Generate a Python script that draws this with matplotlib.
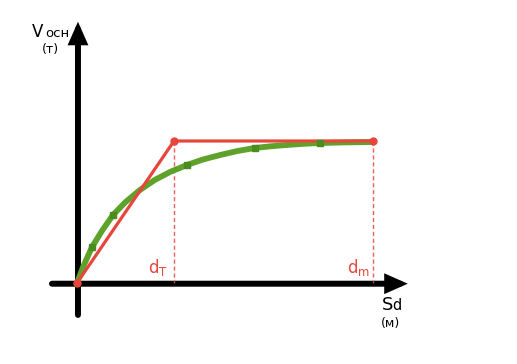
import matplotlib
matplotlib.use("Agg")
import matplotlib.pyplot as plt

# ---- data (units: d_T = 1, V_max = 1) ----
d_T = 1.0
d_m = 3.05
red_x = [0.0, d_T, d_m]
red_y = [0.0, 1.0, 1.0]

green_x = [0.0, 0.07, 0.155, 0.26, 0.371, 0.50, 0.649, 0.80, 0.959, 1.134, 1.30, 1.474, 1.65, 1.835, 2.0, 2.165, 2.33, 2.505, 2.75, 3.05]
green_y = [0.0, 0.125, 0.254, 0.370, 0.479, 0.570, 0.655, 0.725, 0.782, 0.831, 0.870, 0.901, 0.929, 0.951, 0.963, 0.972, 0.980, 0.986, 0.990, 0.993]
green_marks = [2, 4, 9, 13, 17]

W, H = 517, 364
fig = plt.figure(figsize=(W / 100, H / 100), dpi=100)
ax = fig.add_axes([0, 0, 1, 1])
ax.set_xlim(-77 / 97, (W - 77) / 97)
ax.set_ylim(-(H - 283) / 142, 283 / 142)
ax.axis("off")

RED = "#e8453c"
GREEN = "#5ea22c"
DGREEN = "#4a8c1f"

# axes arrows
arrow_kw = dict(arrowstyle="-|>,head_length=0.95,head_width=0.42", lw=4.3,
                color="black", shrinkA=0, shrinkB=0, joinstyle="miter")
ax.annotate("", xy=(0.01, 1.84), xytext=(0.01, -0.225), arrowprops=arrow_kw, zorder=2)
ax.annotate("", xy=(3.41, -0.005), xytext=(-0.258, -0.005), arrowprops=arrow_kw, zorder=2)

# dashed guides
for xv in [d_T, d_m]:
    ax.plot([xv, xv], [1.0, 0.0], color=RED, lw=1.0, ls=(0, (3, 2)), alpha=0.85, zorder=3)

# green curve
ax.plot(green_x, green_y, color=GREEN, lw=4.2, solid_capstyle="round", zorder=4)
# red line
ax.plot(red_x, red_y, color=RED, lw=2.3, marker="o", ms=5, zorder=5)
# green markers
ax.plot([green_x[i] for i in green_marks], [green_y[i] for i in green_marks],
        ls="none", marker="s", ms=5, color=DGREEN, zorder=6)

def ftext(x, y, s, **kw):
    fig.text(x / W, 1 - y / H, s, **kw)

# labels
ftext(32, 37, "V", fontsize=12, ha="left", va="baseline")
ftext(45, 37, "осн", fontsize=9.5, ha="left", va="baseline")
ftext(50, 50, "(т)", fontsize=9, ha="center", va="center")

ftext(382, 310, "S", fontsize=13, ha="left", va="baseline")
ftext(392, 310, "d", fontsize=10.5, ha="left", va="baseline")
ftext(391, 323, "(м)", fontsize=9, ha="center", va="center")

plt.rcParams["mathtext.default"] = "regular"
ftext(148, 273, r"d$_\mathrm{T}$", fontsize=12, color=RED, ha="left", va="baseline")
ftext(347, 273, r"d$_\mathrm{m}$", fontsize=12, color=RED, ha="left", va="baseline")

fig.savefig("out.png", dpi=100)
